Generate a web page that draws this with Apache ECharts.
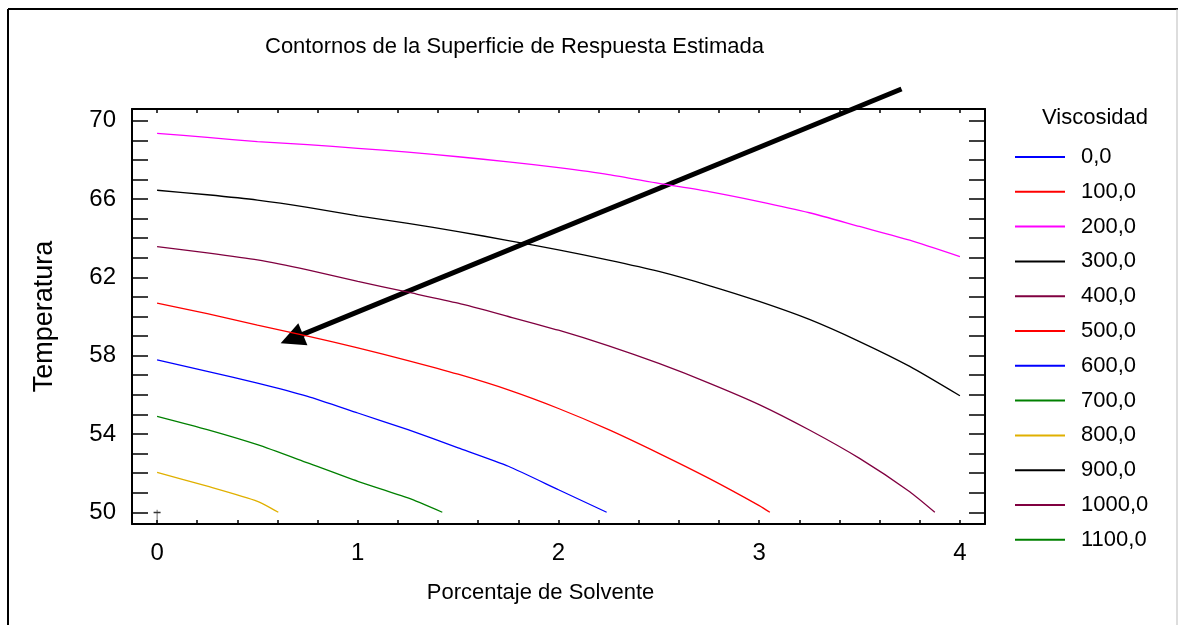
<!DOCTYPE html>
<html>
<head>
<meta charset="utf-8">
<script src="https://cdn.jsdelivr.net/npm/echarts@6/dist/echarts.min.js"></script>
<style>
html, body { margin: 0; padding: 0; background: #fff; }
#chart { width: 1178px; height: 625px; }
</style>
</head>
<body>
<div id="chart"></div>
<script>
// niveles de viscosidad (leyenda) y colores
const levels = ['0,0', '100,0', '200,0', '300,0', '400,0', '500,0', '600,0', '700,0', '800,0', '900,0', '1000,0', '1100,0']
const levelColors = ['#0000FF', '#FF0000', '#FF00FF', '#000000', '#800040', '#FF0000', '#0000FF', '#008000', '#E0B000', '#000000', '#800040', '#008000']

// contornos: [solvente, temperatura]
const c200 = [[0, 69.36], [0.25, 69.15], [0.5, 68.93], [0.75, 68.78], [1, 68.59], [1.25, 68.4], [1.5, 68.16], [1.75, 67.9], [2, 67.6], [2.25, 67.25], [2.5, 66.8], [2.75, 66.38], [3, 65.87], [3.25, 65.3], [3.5, 64.6], [3.75, 63.9], [4, 63.06]]
const c300 = [[0, 66.45], [0.25, 66.22], [0.5, 65.95], [0.75, 65.58], [1, 65.14], [1.25, 64.76], [1.5, 64.34], [1.75, 63.88], [2, 63.4], [2.25, 62.88], [2.5, 62.3], [2.75, 61.58], [3, 60.77], [3.25, 59.85], [3.5, 58.72], [3.75, 57.45], [4, 55.95]]
const c400 = [[0, 63.57], [0.25, 63.25], [0.5, 62.89], [0.75, 62.38], [1, 61.79], [1.25, 61.24], [1.5, 60.68], [1.75, 60.0], [2, 59.3], [2.25, 58.5], [2.5, 57.6], [2.75, 56.6], [3, 55.5], [3.25, 54.2], [3.5, 52.75], [3.75, 51.05], [3.875, 50]]
const c500 = [[0, 60.68], [0.25, 60.15], [0.5, 59.56], [0.75, 59.0], [1, 58.4], [1.25, 57.75], [1.5, 57.05], [1.75, 56.25], [2, 55.3], [2.25, 54.22], [2.5, 53.01], [2.75, 51.73], [3, 50.34], [3.053, 50]]
const c600 = [[0, 57.79], [0.25, 57.2], [0.5, 56.6], [0.75, 55.92], [1, 55.07], [1.25, 54.22], [1.5, 53.29], [1.75, 52.35], [2, 51.15], [2.24, 50]]
const c700 = [[0, 54.9], [0.25, 54.22], [0.5, 53.45], [0.75, 52.52], [1, 51.58], [1.25, 50.73], [1.421, 50]]
const c800 = [[0, 52.04], [0.25, 51.33], [0.5, 50.56], [0.604, 50]]

// ticks y etiquetas de los ejes
const xLabels = [0, 1, 2, 3, 4]
const xTicks = [0, 0.2, 0.4, 0.6, 0.8, 1, 1.2, 1.4, 1.6, 1.8, 2, 2.2, 2.4, 2.6, 2.8, 3, 3.2, 3.4, 3.6, 3.8, 4]
const yLabels = [50, 54, 58, 62, 66, 70]
const yTicks = [50, 51, 52, 53, 54, 55, 56, 57, 58, 59, 60, 61, 62, 63, 64, 65, 66, 67, 68, 69, 70]

// punto de diseno y flecha
const designPoint = [[0, 50]]
const arrowFrom = [3.709, 71.62]
const arrowTo = [0.671, 58.86]

const contours = { '200,0': c200, '300,0': c300, '400,0': c400, '500,0': c500, '600,0': c600, '700,0': c700, '800,0': c800 }

const font = "'Liberation Sans', Arial, sans-serif"
const fs = 22
const chart = echarts.init(document.getElementById('chart'))

const series = levels.map((name, i) => ({
    name: name,
    type: 'line',
    showSymbol: false,
    symbol: 'none',
    silent: true,
    smooth: 0.2,
    color: levelColors[i],
    lineStyle: { color: levelColors[i], width: 1.3 },
    data: contours[name] || []
}))

series.push({
    name: 'punto',
    type: 'scatter',
    data: designPoint,
    symbol: 'path://M4,0L4,14M0,3L8,3',
    symbolSize: [7, 13],
    symbolOffset: [0, 4],
    itemStyle: { color: 'none', borderColor: '#000', borderWidth: 1 },
    silent: true
})

series.push({
    name: 'flecha',
    type: 'lines',
    coordinateSystem: 'cartesian2d',
    silent: true,
    clip: false,
    symbol: ['none', 'triangle'],
    symbolSize: [17, 24],
    lineStyle: { color: '#000', width: 5, opacity: 1 },
    data: [{ coords: [arrowFrom, arrowTo] }]
})

const axisCommon = {
    type: 'value',
    axisLine: { show: true, onZero: false, lineStyle: { color: '#000', width: 2 } },
    splitLine: { show: false }
}

const option = {
    backgroundColor: '#fff',
    animation: false,
    textStyle: { fontFamily: font },
    title: [
        {
            text: 'Contornos de la Superficie de Respuesta Estimada',
            left: 260,
            top: 31,
            textStyle: { fontFamily: font, fontSize: fs, fontWeight: 'normal', color: '#000' }
        },
        {
            text: 'Viscosidad',
            left: 1037,
            top: 102,
            textStyle: { fontFamily: font, fontSize: fs, fontWeight: 'normal', color: '#000' }
        }
    ],
    legend: {
        data: levels,
        orient: 'vertical',
        left: 1010,
        top: 141,
        itemWidth: 50,
        itemHeight: 2,
        itemGap: 12.8,
        icon: 'rect',
        selectedMode: false,
        textStyle: { fontFamily: font, fontSize: fs, color: '#000', padding: [0, 0, 0, 11] }
    },
    grid: { left: 132, top: 109, right: 193, bottom: 101 },
    xAxis: [
        Object.assign({}, axisCommon, {
            position: 'bottom',
            min: -0.125,
            max: 4.125,
            name: 'Porcentaje de Solvente',
            nameLocation: 'middle',
            nameGap: 58,
            nameTextStyle: { fontFamily: font, fontSize: fs, color: '#000', padding: [0, 36, 0, 0] },
            axisTick: { show: true, inside: true, length: 4, customValues: xTicks, lineStyle: { color: '#000', width: 1.5 } },
            axisLabel: { show: true, margin: 17, customValues: xLabels, fontFamily: font, fontSize: 24, color: '#000' }
        }),
        Object.assign({}, axisCommon, {
            position: 'top',
            min: -0.125,
            max: 4.125,
            axisTick: { show: true, inside: true, length: 4, customValues: xTicks, lineStyle: { color: '#000', width: 1.5 } },
            axisLabel: { show: false }
        })
    ],
    yAxis: [
        Object.assign({}, axisCommon, {
            position: 'left',
            min: 49.4,
            max: 70.6,
            name: 'Temperatura',
            nameLocation: 'middle',
            nameGap: 74,
            nameRotate: 90,
            nameTextStyle: { fontFamily: font, fontSize: 27, color: '#000' },
            axisTick: { show: true, inside: true, length: 16, customValues: yTicks, lineStyle: { color: '#000', width: 1.5 } },
            axisLabel: { show: true, margin: 16, customValues: yLabels, fontFamily: font, fontSize: 24, color: '#000' }
        }),
        Object.assign({}, axisCommon, {
            position: 'right',
            min: 49.4,
            max: 70.6,
            axisTick: { show: true, inside: true, length: 16, customValues: yTicks, lineStyle: { color: '#000', width: 1.5 } },
            axisLabel: { show: false }
        })
    ],
    graphic: [
        { type: 'line', shape: { x1: 8, y1: 9, x2: 8, y2: 625 }, style: { stroke: '#000', lineWidth: 2 } },
        { type: 'line', shape: { x1: 8, y1: 9, x2: 1178, y2: 9 }, style: { stroke: '#000', lineWidth: 2 } },
        { type: 'line', shape: { x1: 1177, y1: 9, x2: 1177, y2: 625 }, style: { stroke: '#bbb', lineWidth: 1 } }
    ],
    series: series
}
chart.setOption(option)
</script>
</body>
</html>
